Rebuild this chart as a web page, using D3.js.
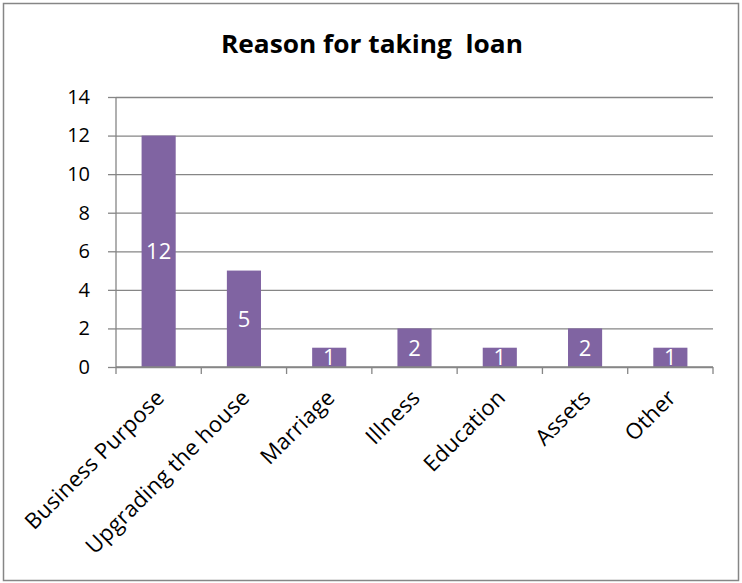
<!DOCTYPE html>
<html>
<head>
<meta charset="utf-8">
<script src="https://cdn.jsdelivr.net/npm/d3@7"></script>
<style>
  body { margin: 0; background: #fff; }
  text { font-family: "Open Sans", "Liberation Sans", sans-serif; }
</style>
</head>
<body>
<div id="chart"></div>
<script>
"use strict";
// données
const categories = ["Business Purpose", "Upgrading the house", "Marriage", "Illness", "Education", "Assets", "Other"];
const values = [12, 5, 1, 2, 1, 2, 1];
const yTicks = [0, 2, 4, 6, 8, 10, 12, 14];
const title = "Reason for taking  loan";

const width = 742, height = 583;
const margin = {top: 97, right: 29, bottom: 216, left: 116};
const gray = "#868686", purple = "#8064A2";

const svg = d3.select("#chart").append("svg")
    .attr("width", width).attr("height", height);

// cadre
svg.append("rect")
    .attr("x", 3.5).attr("y", 3.5)
    .attr("width", 735).attr("height", 577)
    .attr("fill", "#fff").attr("stroke", gray).attr("stroke-width", 1.5);

svg.append("text")
    .attr("x", 372).attr("y", 53)
    .attr("text-anchor", "middle")
    .attr("font-weight", "bold").attr("font-size", 25)
    .attr("textLength", 302).attr("lengthAdjust", "spacingAndGlyphs")
    .style("white-space", "pre")
    .text(title);

const x = d3.scaleBand()
    .domain(categories)
    .range([margin.left, width - margin.right])
    .paddingInner(0.6).paddingOuter(0.3);

const y = d3.scaleLinear()
    .domain([0, 14])
    .range([height - margin.bottom, margin.top]);

const g = svg.append("g");

// grille
g.append("g")
    .attr("transform", `translate(${margin.left},0)`)
    .call(d3.axisLeft(y).tickValues(yTicks).tickSize(8).tickPadding(18)
        .tickFormat(d3.format("d")))
    .call(a => a.select(".domain").remove())
    .call(a => a.selectAll(".tick line").clone()
        .attr("x2", width - margin.right - margin.left))
    .call(a => a.selectAll("line").attr("stroke", gray).attr("stroke-width", 1.3))
    .call(a => a.selectAll("text").attr("fill", "#000").attr("font-size", 20)
        .attr("font-family", "Open Sans"));

// axe vertical
g.append("line")
    .attr("x1", margin.left).attr("x2", margin.left)
    .attr("y1", y(14)).attr("y2", y(0))
    .attr("stroke", gray).attr("stroke-width", 1.3);

// barres
g.selectAll("rect.bar").data(values).enter().append("rect")
    .attr("class", "bar")
    .attr("x", (d, i) => x(categories[i]))
    .attr("y", d => y(d))
    .attr("width", x.bandwidth())
    .attr("height", d => y(0) - y(d))
    .attr("fill", purple);

// étiquettes des barres
g.selectAll("text.lbl").data(values).enter().append("text")
    .attr("class", "lbl")
    .attr("x", (d, i) => x(categories[i]) + x.bandwidth() / 2)
    .attr("y", d => (y(d) + y(0)) / 2)
    .attr("dy", "0.36em")
    .attr("text-anchor", "middle")
    .attr("fill", "#fff").attr("font-size", 22)
    .text(d => d);

// axe horizontal avec graduations entre catégories
const step = x.step();
const xAxis = g.append("g").attr("transform", `translate(0,${y(0)})`);
xAxis.append("line")
    .attr("x1", margin.left).attr("x2", width - margin.right)
    .attr("stroke", gray).attr("stroke-width", 1.3);
xAxis.selectAll("line.tk").data(d3.range(categories.length + 1)).enter().append("line")
    .attr("class", "tk")
    .attr("x1", i => margin.left + i * step).attr("x2", i => margin.left + i * step)
    .attr("y1", 0).attr("y2", 7)
    .attr("stroke", gray).attr("stroke-width", 1.3);

xAxis.selectAll("text.cat").data(categories).enter().append("text")
    .attr("class", "cat")
    .attr("transform", d => `translate(${x(d) + x.bandwidth() / 2 + 7},${32}) rotate(-45)`)
    .attr("text-anchor", "end")
    .attr("font-size", 22)
    .attr("letter-spacing", 0.3)
    .text(d => d);
</script>
</body>
</html>
